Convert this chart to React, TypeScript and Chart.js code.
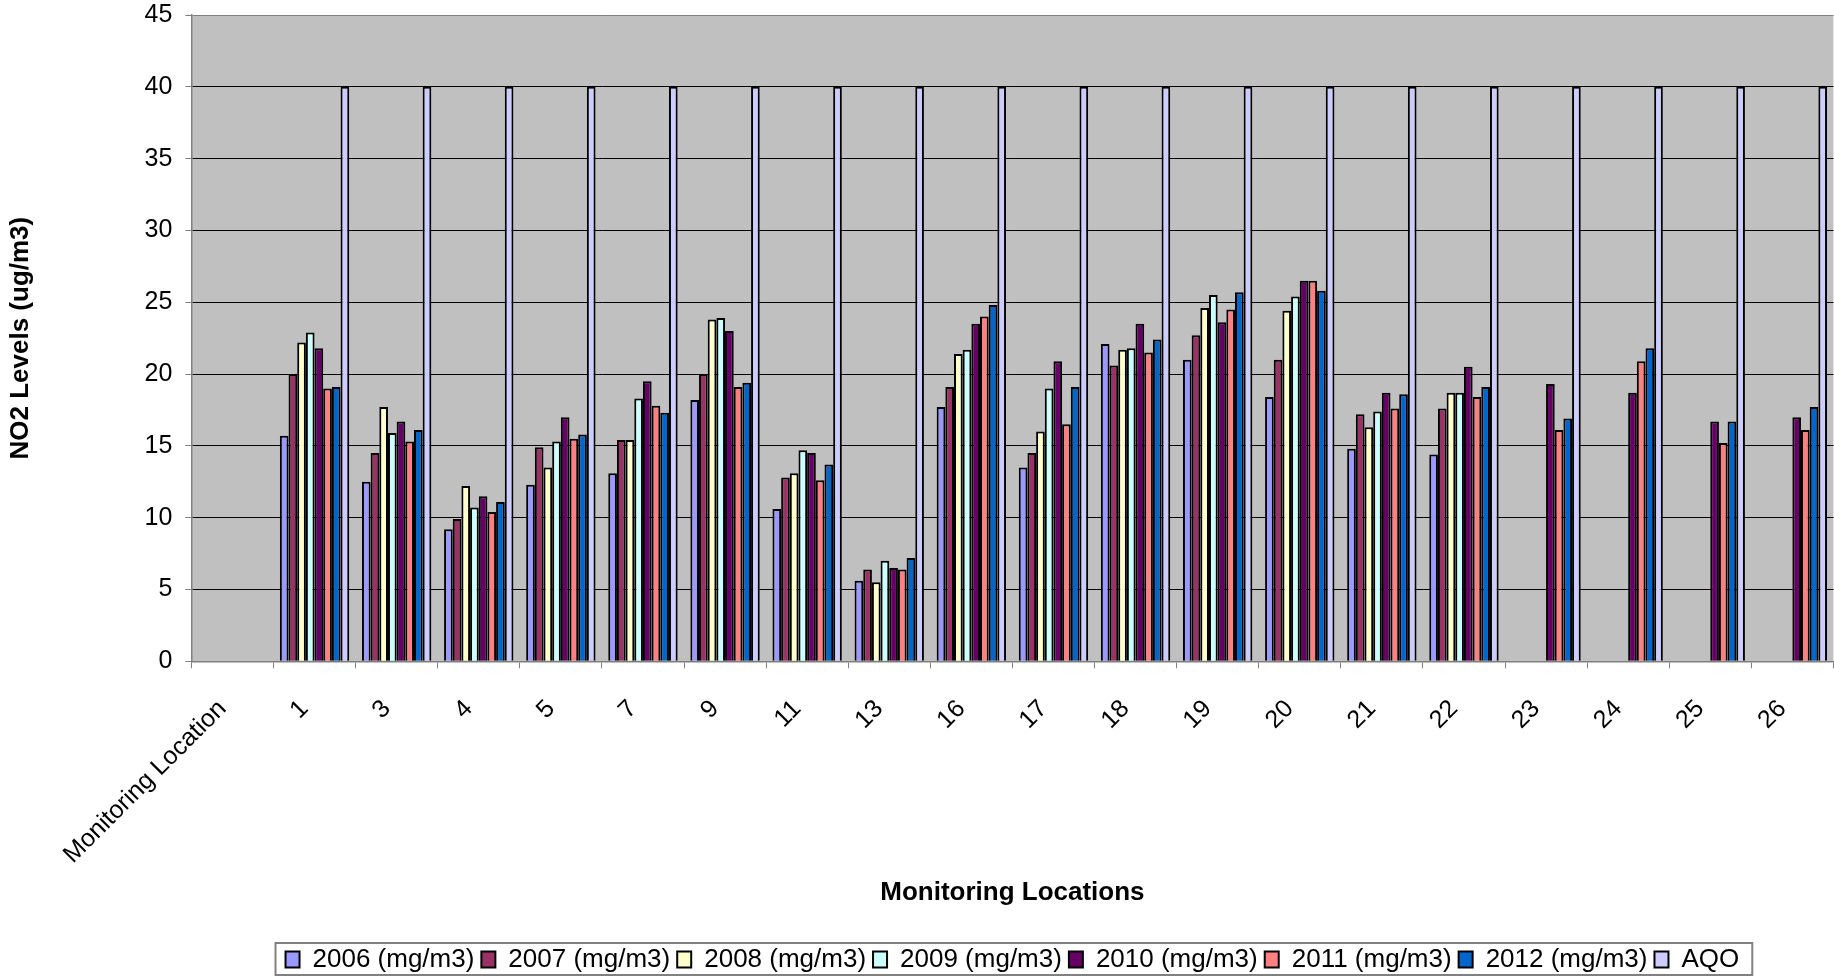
import React, { useEffect, useRef } from "react";
import { Chart, registerables } from "chart.js";

Chart.register(...registerables);

const locations = [
  "Monitoring Location", "1", "3", "4", "5", "7", "9", "11", "13", "16",
  "17", "18", "19", "20", "21", "22", "23", "24", "25", "26",
];
const s2006 = [null, 15.7, 12.5, 9.2, 12.3, 13.1, 18.2, 10.6, 5.6, 17.7, 13.5, 22.1, 21.0, 18.4, 14.8, 14.4, null, null, null, null];
const s2007 = [null, 20.0, 14.5, 9.9, 14.9, 15.4, 20.0, 12.8, 6.4, 19.1, 14.5, 20.6, 22.7, 21.0, 17.2, 17.6, null, null, null, null];
const s2008 = [null, 22.2, 17.7, 12.2, 13.5, 15.4, 23.8, 13.1, 5.5, 21.4, 16.0, 21.7, 24.6, 24.4, 16.3, 18.7, null, null, null, null];
const s2009 = [null, 22.9, 15.9, 10.7, 15.3, 18.3, 23.9, 14.7, 7.0, 21.7, 19.0, 21.8, 25.5, 25.4, 17.4, 18.7, null, null, null, null];
const s2010 = [null, 21.8, 16.7, 11.5, 17.0, 19.5, 23.0, 14.5, 6.5, 23.5, 20.9, 23.5, 23.6, 26.5, 18.7, 20.5, 19.3, 18.7, 16.7, 17.0];
const s2011 = [null, 19.0, 15.3, 10.4, 15.5, 17.8, 19.1, 12.6, 6.4, 24.0, 16.5, 21.5, 24.5, 26.5, 17.6, 18.4, 16.1, 20.9, 15.2, 16.1];
const s2012 = [null, 19.1, 16.1, 11.1, 15.8, 17.3, 19.4, 13.7, 7.2, 24.8, 19.1, 22.4, 25.7, 25.8, 18.6, 19.1, 16.9, 21.8, 16.7, 17.7];
const aqo = [null, 40, 40, 40, 40, 40, 40, 40, 40, 40, 40, 40, 40, 40, 40, 40, 40, 40, 40, 40];

const seriesLabels = [
  "2006 (mg/m3)", "2007 (mg/m3)", "2008 (mg/m3)", "2009 (mg/m3)",
  "2010 (mg/m3)", "2011 (mg/m3)", "2012 (mg/m3)", "AQO",
];
const seriesColors = ["#9999FF", "#993366", "#FFFFCC", "#CCFFFF", "#660066", "#FF8080", "#0066CC", "#CCCCFF"];
const seriesData = [s2006, s2007, s2008, s2009, s2010, s2011, s2012, aqo];

const FONT = "Arial, 'Liberation Sans', sans-serif";
const W = 1834;
const H = 976;
const PLOT_LEFT = 191.4;
const PLOT_TOP = 15;
const PLOT_BOTTOM = 661.3;
const LEGEND_PAD = 7;
const LEGEND_FONT = 26;
const LEGEND_H = LEGEND_FONT + LEGEND_PAD + 10;
const LEGEND_TEXT_CENTER = 958;

const plotPlugin = {
  id: "plotDecor",
  beforeDraw(chart: any) {
    const { ctx, chartArea: a } = chart;
    ctx.save();
    ctx.fillStyle = "#C0C0C0";
    ctx.fillRect(a.left, a.top, a.right - a.left, a.bottom - a.top);
    ctx.restore();
  },
  afterLayout(chart: any) {
    const lg = chart.legend;
    if (lg) {
      const h = lg.height;
      const top = LEGEND_TEXT_CENTER - LEGEND_PAD - LEGEND_FONT / 2 + 1.5;
      lg.top = top;
      lg.bottom = top + h;
    }
  },
  afterDraw(chart: any) {
    const lg = chart.legend;
    if (!lg || !lg.legendHitBoxes || !lg.legendHitBoxes.length) return;
    const boxes = lg.legendHitBoxes;
    let l = Infinity, r = -Infinity;
    boxes.forEach((b: any) => {
      l = Math.min(l, b.left);
      r = Math.max(r, b.left + b.width);
    });
    const { ctx } = chart;
    ctx.save();
    ctx.strokeStyle = "#808080";
    ctx.lineWidth = 2;
    ctx.strokeRect(l - 10, LEGEND_TEXT_CENTER - 15, r - l + 23, 32);
    ctx.restore();
  },
};

export default function App() {
  const ref = useRef<HTMLCanvasElement | null>(null);

  useEffect(() => {
    if (!ref.current) return;
    const chart = new Chart(ref.current, {
      type: "bar",
      data: {
        labels: locations,
        datasets: seriesLabels.map((label, i) => ({
          label,
          data: seriesData[i],
          backgroundColor: seriesColors[i],
          borderColor: "#000000",
          borderWidth: 2,
          borderSkipped: "bottom",
          categoryPercentage: 0.845,
          barPercentage: 1,
        })),
      },
      options: {
        responsive: false,
        animation: false,
        maintainAspectRatio: false,
        layout: { padding: { top: 0, left: 0, right: 0.6, bottom: 0 } },
        plugins: {
          tooltip: { enabled: false },
          legend: {
            position: "bottom",
            fullSize: false,
            labels: {
              color: "#000",
              font: { family: FONT, size: LEGEND_FONT },
              boxWidth: 14,
              boxHeight: 16,
              padding: LEGEND_PAD,
            },
          },
        },
        scales: {
          x: {
            type: "category",
            offset: true,
            grid: {
              display: true,
              drawOnChartArea: false,
              drawTicks: true,
              tickLength: 7,
              color: "#808080",
              offset: true,
            },
            border: { color: "#808080", width: 1.5 },
            ticks: {
              color: "#000",
              font: { family: FONT, size: 25 },
              minRotation: 45,
              maxRotation: 45,
              autoSkip: false,
              padding: 26,
              labelOffset: -10,
            },
            title: {
              display: true,
              text: "Monitoring Locations",
              color: "#000",
              font: { family: FONT, size: 26, weight: "bold" },
              padding: { top: 0, bottom: 25 },
            },
            afterFit: (scale: any) => {
              scale.height = H - LEGEND_H - PLOT_BOTTOM;
              scale.paddingLeft = 0;
              scale.paddingRight = 0;
            },
          },
          y: {
            min: 0,
            max: 45,
            ticks: {
              stepSize: 5,
              color: "#000",
              font: { family: FONT, size: 25 },
              padding: 13,
            },
            grid: {
              color: (ctx: any) =>
                ctx.tick && (ctx.tick.value === 45 || ctx.tick.value === 0) ? "#808080" : "#000000",
              tickColor: "#808080",
              lineWidth: 1,
              tickLength: 6,
            },
            border: { color: "#808080", width: 1.5 },
            title: {
              display: true,
              text: "NO2 Levels (ug/m3)",
              color: "#000",
              font: { family: FONT, size: 26, weight: "bold" },
              padding: { top: 5, bottom: 0 },
            },
            afterFit: (scale: any) => {
              scale.width = PLOT_LEFT;
              scale.paddingTop = PLOT_TOP;
              scale.paddingBottom = PLOT_TOP;
            },
          },
        },
      },
      plugins: [plotPlugin],
    } as any);
    return () => chart.destroy();
  }, []);

  return (
    <div style={{ position: "absolute", left: 0, top: 0, width: W, height: H, background: "#fff" }}>
      <canvas ref={ref} width={W} height={H} style={{ display: "block", width: W, height: H }} />
    </div>
  );
}
